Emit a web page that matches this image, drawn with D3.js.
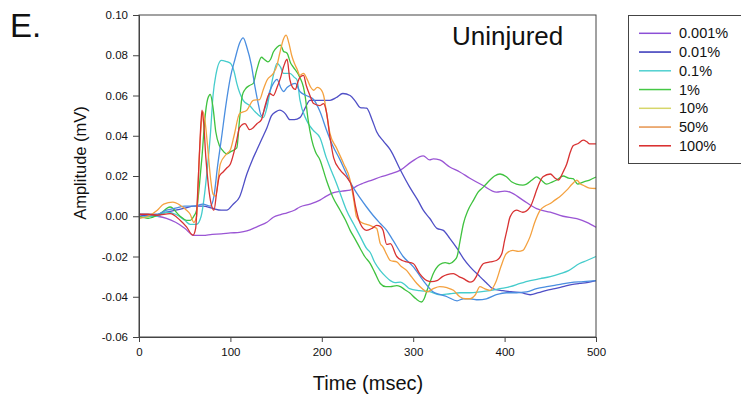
<!DOCTYPE html>
<html><head><meta charset="utf-8">
<script src="https://cdn.jsdelivr.net/npm/d3@7"></script>
<style>body{margin:0;background:#fff}svg{display:block;font-family:"Liberation Sans",Arial,sans-serif}</style>
</head><body><svg id="c" width="741" height="397"></svg>
<script>
const seriesNames = ["0.001%","0.01%","0.1%","1%","10%","50%","100%"];
const xTicks = [0,100,200,300,400,500];
const yTicks = [-0.06,-0.04,-0.02,0,0.02,0.04,0.06,0.08,0.10];
const yTickLabels = ["-0.06","-0.04","-0.02","0.00","0.02","0.04","0.06","0.08","0.10"];

const s0001 = [[0,0],[10,0.0005],[20,0],[30,-0.001],[40,-0.003],[50,-0.006],[60,-0.0095],[70,-0.0095],[80,-0.009],[90,-0.0088],[100,-0.0083],[110,-0.008],[118,-0.0073],[130,-0.005],[140,-0.003],[147,-0.0005],[155,0.0008],[162,0.0017],[170,0.003],[176,0.0046],[187,0.006],[198,0.008],[205,0.010],[212,0.0116],[222,0.0125],[231,0.013],[238,0.015],[245,0.0164],[255,0.018],[264,0.0195],[275,0.021],[286,0.0229],[298,0.027],[311,0.030],[318,0.028],[322,0.0285],[329,0.028],[340,0.0245],[351,0.022],[362,0.0189],[376,0.0154],[391,0.012],[400,0.0125],[406,0.012],[420,0.008],[435,0.0038],[450,0.002],[464,0],[479,-0.0012],[490,-0.003],[500,-0.0055]];
const s001 = [[0,0.001],[10,0],[20,0.0005],[30,0.002],[40,0.003],[50,0.004],[60,0.005],[70,0.005],[80,0.004],[90,0.003],[96,0.003],[103,0.006],[110,0.0096],[118,0.021],[124,0.028],[129,0.033],[135,0.039],[140,0.044],[145,0.05],[150,0.052],[154,0.0527],[160,0.051],[165,0.048],[170,0.048],[176,0.049],[182,0.054],[187,0.0576],[198,0.0576],[209,0.0576],[216,0.059],[223,0.061],[231,0.060],[237,0.057],[242,0.054],[249,0.0537],[255,0.048],[260,0.042],[268,0.037],[275,0.033],[286,0.023],[296,0.0146],[305,0.008],[311,0.003],[318,-0.001],[326,-0.006],[333,-0.007],[340,-0.011],[348,-0.016],[355,-0.021],[362,-0.025],[373,-0.030],[380,-0.033],[387,-0.036],[398,-0.037],[409,-0.0376],[418,-0.038],[428,-0.039],[437,-0.038],[446,-0.0368],[455,-0.036],[464,-0.035],[473,-0.034],[482,-0.0334],[490,-0.033],[500,-0.032]];
const s01 = [[0,-0.001],[10,0],[20,0],[30,0.002],[40,0.001],[50,-0.002],[56,-0.004],[63,-0.004],[68,0],[72,0.012],[75,0.025],[78,0.04],[81,0.06],[84,0.07],[90,0.0775],[95,0.077],[100,0.076],[104,0.072],[107,0.066],[114,0.0576],[121,0.055],[129,0.051],[136,0.049],[140,0.054],[143,0.061],[147,0.07],[151,0.076],[155,0.074],[158,0.071],[165,0.071],[170,0.069],[173,0.0676],[176,0.058],[183,0.048],[190,0.043],[198,0.039],[205,0.029],[211,0.022],[216,0.0164],[222,0.009],[227,0.003],[235,-0.004],[242,-0.010],[249,-0.016],[253,-0.018],[258,-0.023],[264,-0.027],[270,-0.030],[275,-0.032],[280,-0.033],[286,-0.0327],[291,-0.034],[296,-0.036],[307,-0.037],[318,-0.0375],[329,-0.039],[340,-0.0385],[351,-0.038],[362,-0.038],[373,-0.0376],[384,-0.037],[395,-0.036],[406,-0.035],[417,-0.0334],[428,-0.032],[439,-0.031],[450,-0.030],[461,-0.0285],[470,-0.027],[482,-0.0235],[490,-0.022],[500,-0.020]];
const s1 = [[0,0],[10,-0.001],[23,0.0013],[34,0.0046],[45,0],[52,-0.002],[56,-0.002],[60,0],[63,0.003],[66,0.015],[69,0.03],[72,0.048],[75,0.058],[78,0.0605],[81,0.054],[84,0.042],[88,0.035],[91,0.033],[96,0.031],[100,0.032],[107,0.034],[110,0.048],[113,0.060],[116,0.063],[121,0.065],[125,0.066],[129,0.073],[134,0.079],[137,0.078],[141,0.0767],[144,0.078],[147,0.0816],[151,0.084],[155,0.085],[158,0.082],[162,0.081],[166,0.076],[169,0.074],[176,0.069],[180,0.064],[182,0.059],[185,0.048],[189,0.038],[193,0.032],[198,0.028],[205,0.018],[212,0.0096],[220,0.003],[226,-0.002],[231,-0.007],[236,-0.011],[242,-0.016],[247,-0.020],[253,-0.0235],[258,-0.028],[264,-0.0334],[270,-0.035],[275,-0.035],[282,-0.0345],[286,-0.035],[291,-0.0365],[296,-0.038],[303,-0.041],[309,-0.0426],[312,-0.041],[315,-0.037],[319,-0.032],[322,-0.0285],[329,-0.024],[335,-0.023],[340,-0.0235],[345,-0.022],[348,-0.020],[351,-0.013],[355,-0.0036],[360,0.003],[366,0.008],[371,0.012],[377,0.0146],[384,0.018],[389,0.020],[395,0.021],[402,0.0196],[408,0.017],[413,0.016],[420,0.0155],[424,0.016],[430,0.018],[435,0.0196],[440,0.018],[446,0.016],[452,0.017],[457,0.018],[464,0.020],[470,0.019],[475,0.0187],[480,0.016],[486,0.017],[493,0.018],[500,0.0195]];
const s10 = [[0,0.001],[10,0.001],[20,0.001],[30,0.003],[40,0.004],[50,0.005],[60,0.005],[70,0.006],[78,0.005],[82,0.01],[86,0.025],[90,0.038],[95,0.055],[100,0.069],[105,0.078],[110,0.086],[114,0.0886],[118,0.084],[123,0.075],[127,0.064],[130,0.057],[134,0.050],[138,0.054],[143,0.062],[147,0.066],[151,0.068],[155,0.064],[158,0.062],[162,0.064],[165,0.065],[171,0.066],[176,0.062],[183,0.060],[191,0.058],[198,0.052],[205,0.043],[212,0.035],[220,0.028],[227,0.021],[234,0.0146],[242,0.009],[249,0.0046],[256,0.0005],[264,-0.0036],[271,-0.007],[278,-0.012],[289,-0.020],[300,-0.025],[311,-0.032],[322,-0.0376],[330,-0.039],[337,-0.040],[348,-0.042],[355,-0.041],[362,-0.041],[371,-0.0415],[380,-0.041],[391,-0.039],[402,-0.038],[413,-0.038],[424,-0.0376],[435,-0.036],[446,-0.035],[459,-0.034],[472,-0.033],[486,-0.0325],[500,-0.032]];
const s50 = [[0,-0.001],[10,0],[20,0.003],[27,0.006],[37,0.007],[45,0.0055],[52,0.003],[56,0.001],[60,-0.003],[63,0],[66,0.03],[68,0.045],[70,0.052],[72,0.048],[75,0.035],[78,0.02],[81,0.011],[84,0.010],[87,0.02],[89,0.026],[96,0.031],[100,0.033],[104,0.040],[110,0.051],[118,0.0527],[125,0.0576],[132,0.058],[136,0.063],[140,0.0676],[147,0.071],[151,0.075],[154,0.081],[158,0.088],[161,0.090],[164,0.086],[167,0.080],[170,0.076],[173,0.073],[176,0.070],[180,0.071],[184,0.068],[188,0.064],[191,0.0626],[195,0.064],[198,0.0635],[202,0.060],[205,0.052],[209,0.041],[216,0.034],[224,0.026],[231,0.018],[235,0.008],[238,-0.0003],[243,-0.003],[249,-0.004],[255,-0.005],[260,-0.006],[264,-0.0136],[267,-0.0153],[271,-0.019],[275,-0.022],[282,-0.0227],[287,-0.025],[293,-0.027],[298,-0.030],[304,-0.0334],[310,-0.036],[315,-0.0376],[322,-0.036],[329,-0.035],[337,-0.0355],[344,-0.0368],[351,-0.040],[357,-0.041],[362,-0.041],[368,-0.039],[373,-0.035],[378,-0.036],[384,-0.0368],[391,-0.032],[396,-0.025],[402,-0.0185],[409,-0.017],[415,-0.0175],[420,-0.017],[424,-0.014],[428,-0.010],[433,-0.003],[439,0.003],[444,0.005],[450,0.0063],[455,0.008],[460,0.0096],[468,0.013],[474,0.016],[479,0.018],[483,0.016],[486,0.0154],[493,0.014],[500,0.0138]];
const s100 = [[0,0.001],[10,0.001],[20,0.0005],[34,0.0013],[45,-0.002],[52,-0.0053],[59,-0.0094],[62,-0.006],[64,0.01],[66,0.03],[68,0.048],[69,0.0527],[71,0.045],[73,0.03],[76,0.015],[79,0.006],[82,0.003],[85,0.012],[88,0.02],[92,0.022],[96,0.024],[100,0.026],[104,0.032],[107,0.038],[110,0.044],[116,0.046],[121,0.043],[125,0.044],[129,0.046],[134,0.048],[138,0.055],[143,0.061],[147,0.060],[151,0.064],[155,0.069],[158,0.074],[162,0.078],[165,0.068],[168,0.064],[171,0.063],[174,0.067],[176,0.069],[180,0.070],[183,0.065],[187,0.060],[191,0.056],[198,0.055],[202,0.056],[205,0.052],[209,0.039],[213,0.029],[220,0.023],[227,0.0195],[233,0.0146],[237,0.0046],[242,-0.0036],[249,-0.007],[255,-0.006],[260,-0.0045],[264,-0.005],[267,-0.007],[271,-0.014],[275,-0.0136],[282,-0.020],[288,-0.022],[293,-0.0227],[300,-0.0235],[307,-0.0285],[315,-0.032],[320,-0.0325],[326,-0.032],[332,-0.030],[337,-0.029],[344,-0.0285],[350,-0.030],[355,-0.031],[362,-0.0327],[366,-0.032],[369,-0.030],[373,-0.026],[377,-0.0235],[384,-0.0227],[391,-0.022],[397,-0.0185],[400,-0.012],[403,-0.006],[406,-0.0003],[413,0.003],[420,0.002],[428,0.0046],[432,0.009],[435,0.013],[442,0.0196],[450,0.021],[455,0.019],[459,0.018],[464,0.022],[468,0.026],[472,0.032],[475,0.035],[480,0.036],[486,0.0378],[490,0.037],[493,0.036],[500,0.036]];

const seriesData = [s0001, s001, s01, s1, s10, s50, s100];
const lineColors = ["#9a55d4","#4f4fc6","#45cccc","#3fc23f","#4a8ee0","#f4a13f","#d83232"];
const legendColors = ["#8c4fd6","#3333b8","#50d0d0","#45c845","#d6d66a","#e6944e","#d82828"];

const svg = d3.select("#c");
const x = d3.scaleLinear().domain([0,500]).range([139,596]);
const y = d3.scaleLinear().domain([-0.06,0.10]).range([337,15]);

const line = d3.line().x(d=>x(d[0])).y(d=>y(d[1])).curve(d3.curveMonotoneX);
const g = svg.append("g");
seriesData.forEach((s,i)=>{
  g.append("path").attr("d", line(s)).attr("fill","none")
   .attr("stroke", lineColors[i]).attr("stroke-width",1.3).attr("stroke-linejoin","round");
});

// frame
svg.append("rect").attr("x",139).attr("y",15).attr("width",596-139).attr("height",337-15)
  .attr("fill","none").attr("stroke","#444").attr("stroke-width",1);

const yAxis = svg.append("g").attr("transform","translate(139,0)")
  .call(d3.axisLeft(y).tickValues(yTicks).tickSize(6).tickPadding(5).tickFormat((d,i)=>yTickLabels[i]));
const xAxis = svg.append("g").attr("transform","translate(0,337)")
  .call(d3.axisBottom(x).tickValues(xTicks).tickSize(5).tickPadding(6));
[yAxis,xAxis].forEach(a=>{
  a.select(".domain").attr("stroke","#444");
  a.selectAll(".tick line").attr("stroke","#444");
  a.selectAll(".tick text").attr("fill","#111").style("font-size","11.5px").style("font-family","'Liberation Sans',Arial,sans-serif");
});

svg.append("text").attr("x",10).attr("y",37).text("E.").style("font-size","33px").attr("fill","#111");
svg.append("text").attr("x",452).attr("y",45).text("Uninjured").style("font-size","26px").attr("fill","#111");
svg.append("text").attr("transform","translate(86,163) rotate(-90)").attr("text-anchor","middle")
  .text("Amplitude (mV)").style("font-size","16.5px").attr("fill","#111");
svg.append("text").attr("x",368).attr("y",390).attr("text-anchor","middle")
  .text("Time (msec)").style("font-size","20px").attr("fill","#111");

// legend
const lg = svg.append("g");
lg.append("rect").attr("x",628.5).attr("y",15.5).attr("width",130).attr("height",148)
  .attr("fill","#fff").attr("stroke","#444").attr("stroke-width",1);
seriesNames.forEach((n,i)=>{
  const cy = 33.3 + i*18.75;
  lg.append("line").attr("x1",639).attr("x2",671).attr("y1",cy).attr("y2",cy)
    .attr("stroke",legendColors[i]).attr("stroke-width",1.5);
  lg.append("text").attr("x",679).attr("y",cy+5).text(n).style("font-size","14.5px").attr("fill","#111");
});
</script></body></html>
